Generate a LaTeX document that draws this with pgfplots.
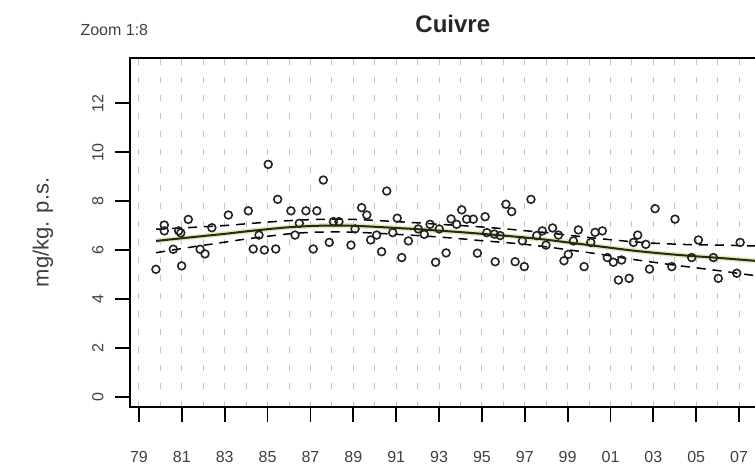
\documentclass[border=0pt]{standalone}
\usepackage{pgfplots}
\pgfplotsset{compat=1.18}
\usepackage{pgfplotstable}
\usepackage{fontspec}
\setmainfont{Liberation Sans}

\definecolor{fitline}{RGB}{38,42,18}
\definecolor{halo}{RGB}{226,234,186}
\definecolor{gridgray}{RGB}{195,195,195}
\definecolor{ptcol}{RGB}{35,35,35}

% yearly copper concentrations (mg/kg dry weight)
\pgfplotstableread{
year value
1979.79 5.21
1980.18 7.02
1980.18 6.78
1980.85 6.78
1980.95 6.70
1980.99 5.35
1981.30 7.25
1980.60 6.03
1981.85 6.03
1982.08 5.84
1982.40 6.91
1983.17 7.43
1984.10 7.60
1984.33 6.04
1984.60 6.61
1984.85 6.00
1985.03 9.50
1985.38 6.04
1985.47 8.07
1986.09 7.60
1986.28 6.61
1986.48 7.09
1986.79 7.60
1987.13 6.04
1987.30 7.60
1987.60 8.86
1987.88 6.31
1988.07 7.16
1988.33 7.16
1988.89 6.20
1989.08 6.86
1989.39 7.73
1989.63 7.43
1989.81 6.41
1990.09 6.61
1990.32 5.93
1990.56 8.41
1990.84 6.71
1991.05 7.30
1991.26 5.69
1991.57 6.37
1992.03 6.86
1992.31 6.64
1992.58 7.05
1992.84 5.50
1993.01 6.86
1993.33 5.88
1993.56 7.27
1993.82 7.05
1994.06 7.64
1994.29 7.26
1994.60 7.26
1994.79 5.87
1995.15 7.36
1995.23 6.71
1995.58 6.65
1995.62 5.52
1995.85 6.59
1996.12 7.87
1996.39 7.57
1996.55 5.52
1996.89 6.37
1996.98 5.32
1997.29 8.07
1997.56 6.59
1997.82 6.78
1997.99 6.20
1998.30 6.90
1998.57 6.61
1998.83 5.56
1999.03 5.82
1999.27 6.37
1999.50 6.82
1999.77 5.32
2000.08 6.31
2000.28 6.72
2000.62 6.78
2000.85 5.69
2001.13 5.50
2001.37 4.77
2001.52 5.59
2001.87 4.84
2002.07 6.31
2002.27 6.61
2002.65 6.23
2002.82 5.22
2003.08 7.69
2003.86 5.32
2004.01 7.26
2004.79 5.69
2005.10 6.41
2005.80 5.69
2006.03 4.84
2006.89 5.05
2007.05 6.31
}\obs

% smoothed trend with its confidence band
\pgfplotstableread{
year fit lo hi
1979.8 6.37 5.89 6.85
1981 6.48 6.06 6.90
1982 6.57 6.19 6.95
1983 6.66 6.32 7.00
1984 6.76 6.45 7.07
1985 6.85 6.56 7.14
1986 6.93 6.66 7.20
1987 6.98 6.72 7.24
1988 7.00 6.74 7.26
1989 6.99 6.73 7.25
1990 6.95 6.69 7.21
1991 6.90 6.64 7.16
1992 6.85 6.59 7.11
1993 6.79 6.53 7.05
1994 6.73 6.46 7.00
1995 6.66 6.38 6.94
1996 6.59 6.31 6.87
1997 6.51 6.23 6.79
1998 6.42 6.13 6.71
1999 6.31 6.01 6.61
2000 6.20 5.89 6.51
2001 6.09 5.76 6.42
2002 5.98 5.62 6.34
2003 5.89 5.50 6.28
2004 5.81 5.38 6.24
2005 5.74 5.27 6.21
2006 5.68 5.16 6.20
2007 5.61 5.04 6.18
2008 5.54 4.92 6.16
}\trend

\begin{document}
\begin{tikzpicture}
\begin{axis}[
  scale only axis,
  width=630.5pt, height=349pt,
  xmin=1978.58, xmax=2008.0,
  ymin=-0.42, ymax=13.85,
  axis line style={line width=1.8pt, black},
  tick style={line width=1.8pt, black},
  tick align=outside,
  major tick length=15pt,
  minor tick length=0pt,
  xtick pos=left, ytick pos=left,
  xtick={1979,1981,...,2007},
  xticklabels={79,81,83,85,87,89,91,93,95,97,99,01,03,05,07},
  minor xtick={1980,1982,...,2008},
  ytick={0,2,...,12},
  /pgf/number format/assume math mode=true,
  xmajorgrids, xminorgrids,
  major grid style={gridgray, line width=1pt, dash pattern=on 6pt off 12pt},
  minor grid style={gridgray, line width=1pt, dash pattern=on 6pt off 12pt},
  ticklabel style={font=\fontsize{16}{19}\selectfont, text=black!75},
  xticklabel shift=26pt,
  yticklabel shift=8pt,
  yticklabel style={rotate=90, anchor=south},
  ylabel={mg/kg. p.s.},
  ylabel style={at={(axis description cs:-0.138,0.5)}, anchor=center,
    font=\fontsize{22}{26}\selectfont, text=black!75},
  title={\textbf{Cuivre}},
  title style={at={(axis description cs:0.512,1.08)}, anchor=center,
    font=\fontsize{24}{28}\selectfont, text=black!85},
  clip mode=individual,
]
  \addplot[halo, line width=5pt, smooth] table[x=year, y=fit] {\trend};
  \addplot[fitline, line width=2pt, smooth] table[x=year, y=fit] {\trend};
  \addplot[black, line width=1.5pt, smooth, dash pattern=on 9pt off 7pt] table[x=year, y=lo] {\trend};
  \addplot[black, line width=1.5pt, smooth, dash pattern=on 9pt off 7pt] table[x=year, y=hi] {\trend};
  \addplot[only marks, mark=o, mark size=3.9pt,
    mark options={line width=1.6pt, draw=ptcol}] table[x=year, y=value] {\obs};
  \node[anchor=west, font=\fontsize{16}{19}\selectfont, text=black!75]
    at (axis description cs:-0.084,1.080) {Zoom 1:8};
\end{axis}
\pgfresetboundingbox
\path[use as bounding box] (-130pt,-59pt) rectangle (625pt,407pt);
\end{tikzpicture}
\end{document}
